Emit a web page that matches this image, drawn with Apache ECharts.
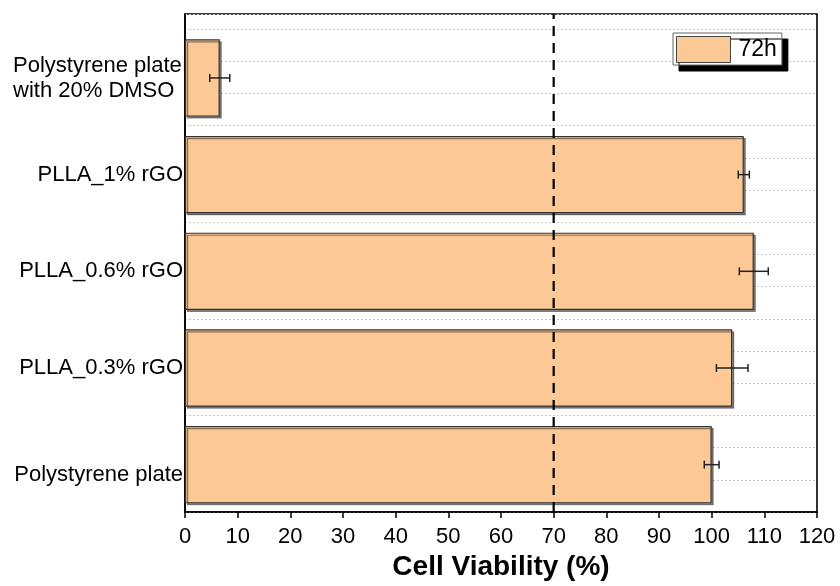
<!DOCTYPE html>
<html>
<head>
<meta charset="utf-8">
<script src="https://cdn.jsdelivr.net/npm/echarts@6/dist/echarts.min.js"></script>
<style>
html,body{margin:0;padding:0;background:#fff;}
#chart{width:840px;height:586px;}
</style>
</head>
<body>
<div id="chart"></div>
<script>
// Categories listed bottom to top
var categories = ['Polystyrene plate', 'PLLA_0.3% rGO', 'PLLA_0.6% rGO', 'PLLA_1% rGO', 'Polystyrene plate\nwith 20% DMSO'];
var viability = [100.0, 103.9, 108.0, 106.1, 6.6];
var errors = [1.4, 3.0, 2.75, 1.05, 1.9];
var xTicks = [0, 120, 10];      // min, max, interval
var threshold = 70;
var seriesName = '72h';

var FONT = 'Liberation Sans, Arial, sans-serif';
var errData = viability.map(function (v, i) { return [v - errors[i], v + errors[i], i]; });

var chart = echarts.init(document.getElementById('chart'), null, {renderer: 'canvas'});
var option = {
  backgroundColor: '#fff',
  animation: false,
  textStyle: {fontFamily: FONT},
  legend: {
    data: [{name: seriesName, icon: 'rect', itemStyle: {color: '#FCC896', borderColor: '#444', borderWidth: 1}}],
    left: 673, top: 33,
    padding: [3, 5, 2, 3],
    itemWidth: 54, itemHeight: 26, itemGap: 0,
    backgroundColor: '#fff', borderColor: '#666', borderWidth: 1,
    shadowColor: '#000', shadowBlur: 0, shadowOffsetX: 6, shadowOffsetY: 6,
    textStyle: {fontSize: 23, color: '#000', fontFamily: FONT, padding: [0, 0, 0, 3]}
  },
  grid: [
    {left: 185, right: 23, top: 14, bottom: 73, show: true, borderColor: '#000', borderWidth: 1.6, backgroundColor: 'transparent'},
    {left: 185, right: 23, top: 29.6, bottom: 73}
  ],
  xAxis: [
    {
      gridIndex: 0, type: 'value', min: xTicks[0], max: xTicks[1], interval: xTicks[2],
      name: 'Cell Viability (%)', nameLocation: 'middle', nameGap: 39,
      nameTextStyle: {fontSize: 28, fontWeight: 'bold', color: '#000', fontFamily: FONT},
      axisLine: {show: true, lineStyle: {color: '#000', width: 1.6}},
      axisTick: {show: true, inside: false, length: 6, lineStyle: {color: '#000', width: 1.5}},
      axisLabel: {fontSize: 22, color: '#000', margin: 14, fontFamily: FONT},
      splitLine: {show: false}
    },
    {
      gridIndex: 1, type: 'value', min: xTicks[0], max: xTicks[1], interval: xTicks[2],
      show: false, splitLine: {show: false}
    }
  ],
  yAxis: [
    {
      gridIndex: 0, type: 'value', min: 0, max: 15.47, interval: 1,
      axisLine: {show: true, lineStyle: {color: '#000', width: 1.6}},
      axisTick: {show: false}, axisLabel: {show: false},
      splitLine: {show: true, lineStyle: {color: '#c8c8c8', width: 1, type: [2, 2]}}
    },
    {
      gridIndex: 1, type: 'category',
      data: categories,
      axisLine: {show: false}, axisTick: {show: false},
      axisLabel: {
        fontSize: 22, color: '#000', margin: 2, fontFamily: FONT,
        formatter: function (v, i) {
          if (i === 0) return '{low|' + v + '}';
          if (v.indexOf('\n') >= 0) return v.split('\n').map(function (s) { return '{two|' + s + '}'; }).join('\n');
          return v;
        },
        rich: {
          low: {fontSize: 22, color: '#000', fontFamily: FONT, padding: [20, 0, 0, 0]},
          two: {fontSize: 22, color: '#000', fontFamily: FONT, width: 170, align: 'left', lineHeight: 25}
        }
      },
      splitLine: {show: false}
    }
  ],
  series: [
    {
      name: seriesName, type: 'bar', xAxisIndex: 1, yAxisIndex: 1,
      data: viability, barWidth: '80%',
      itemStyle: {color: '#FCC896', borderColor: '#333', borderWidth: 1.2,
        shadowColor: 'rgba(0,0,0,0.45)', shadowBlur: 0, shadowOffsetX: 2, shadowOffsetY: 2}
    },
    {
      name: 'err', type: 'custom', xAxisIndex: 1, yAxisIndex: 1,
      data: errData, encode: {x: [0, 1], y: 2}, z: 5,
      renderItem: function (params, api) {
        var lo = api.coord([api.value(0), api.value(2)]);
        var hi = api.coord([api.value(1), api.value(2)]);
        var h = 4;
        var st = {stroke: '#222', lineWidth: 1.5};
        return {type: 'group', children: [
          {type: 'line', shape: {x1: lo[0], y1: lo[1], x2: hi[0], y2: hi[1]}, style: st},
          {type: 'line', shape: {x1: lo[0], y1: lo[1] - h, x2: lo[0], y2: lo[1] + h}, style: st},
          {type: 'line', shape: {x1: hi[0], y1: hi[1] - h, x2: hi[0], y2: hi[1] + h}, style: st}
        ]};
      }
    },
    {
      name: 'threshold', type: 'line', xAxisIndex: 0, yAxisIndex: 0,
      data: [[threshold, 0], [threshold, 15.47]], symbol: 'none', z: 6,
      lineStyle: {color: '#000', width: 2.2, type: [10, 7]}
    }
  ]
};
chart.setOption(option);
</script>
</body>
</html>
